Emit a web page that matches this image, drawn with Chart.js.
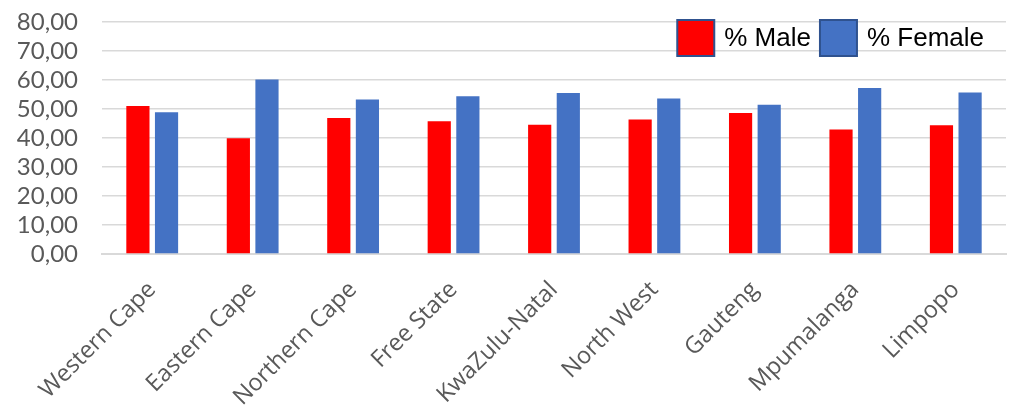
<!DOCTYPE html>
<html>
<head>
<meta charset="utf-8">
<script src="https://cdn.jsdelivr.net/npm/chart.js@4.4.1/dist/chart.umd.min.js"></script>
<style>
  html, body { margin: 0; padding: 0; background: #fff; }
  #wrap { width: 1026px; height: 408px; }
</style>
</head>
<body>
<div id="wrap"><canvas id="c" width="1026" height="408"></canvas></div>
<script>
const categories = ["Western Cape", "Eastern Cape", "Northern Cape", "Free State", "KwaZulu-Natal", "North West", "Gauteng", "Mpumalanga", "Limpopo"];
const maleValues = [51.0, 39.9, 46.9, 45.8, 44.6, 46.4, 48.6, 42.9, 44.4];
const femaleValues = [48.9, 60.2, 53.3, 54.4, 55.5, 53.6, 51.5, 57.2, 55.7];
const seriesNames = ["% Male", "% Female"];
const yTicks = [0, 10, 20, 30, 40, 50, 60, 70, 80];

const legendPlugin = {
  id: 'insideLegend',
  afterDraw(chart) {
    const ctx = chart.ctx;
    const ca = chart.chartArea;
    ctx.save();
    ctx.font = '26px "Liberation Sans", Arial, sans-serif';
    ctx.textBaseline = 'middle';
    const boxW = 37, boxH = 36, gapText = 10, gapItem = 9;
    const items = chart.data.datasets.map(d => ({ label: d.label, color: d.backgroundColor }));
    let total = 0;
    items.forEach((it, i) => {
      it.tw = ctx.measureText(it.label).width;
      total += boxW + gapText + it.tw + (i < items.length - 1 ? gapItem : 0);
    });
    let x = ca.right - 22 - total;
    const y = ca.top - 2;
    items.forEach(it => {
      ctx.fillStyle = it.color;
      ctx.fillRect(x, y, boxW, boxH);
      ctx.strokeStyle = '#2F528F';
      ctx.lineWidth = 2;
      ctx.strokeRect(x, y, boxW, boxH);
      ctx.fillStyle = '#000';
      ctx.fillText(it.label, x + boxW + gapText, y + boxH / 2 + 1);
      x += boxW + gapText + it.tw + gapItem;
    });
    ctx.restore();
  }
};

new Chart(document.getElementById('c'), {
  type: 'bar',
  data: {
    labels: categories,
    datasets: [
      { label: seriesNames[0], data: maleValues, backgroundColor: '#FF0000', categoryPercentage: 0.57, barPercentage: 0.81 },
      { label: seriesNames[1], data: femaleValues, backgroundColor: '#4472C4', categoryPercentage: 0.57, barPercentage: 0.81 }
    ]
  },
  options: {
    responsive: false,
    animation: false,
    devicePixelRatio: 1,
    layout: { padding: { top: 22, right: 20, left: 0, bottom: 0 } },
    plugins: { legend: { display: false }, tooltip: { enabled: false } },
    scales: {
      y: {
        min: 0, max: 80,
        afterBuildTicks(scale) { scale.ticks = yTicks.map(v => ({ value: v })); },
        afterFit(scale) { scale.width = 102; scale.paddingTop = 0; scale.paddingBottom = 0; },
        ticks: {
          color: '#595959',
          font: { family: 'Lato, "Open Sans", sans-serif', size: 24 },
          padding: 24, autoSkip: false, stepSize: 10,
          callback: v => v.toFixed(2).replace('.', ',')
        },
        grid: { color: '#d9d9d9', lineWidth: 1.5, drawTicks: false },
        border: { display: false }
      },
      x: {
        afterFit(scale) { scale.height = 154; },
        ticks: {
          color: '#595959',
          font: { family: '"Open Sans", sans-serif', size: 23.5 },
          minRotation: 45, maxRotation: 45, autoSkip: false, padding: 22
        },
        grid: { display: false, drawTicks: false },
        border: { display: true, color: '#d9d9d9', width: 2 }
      }
    }
  },
  plugins: [legendPlugin]
});
</script>
</body>
</html>
